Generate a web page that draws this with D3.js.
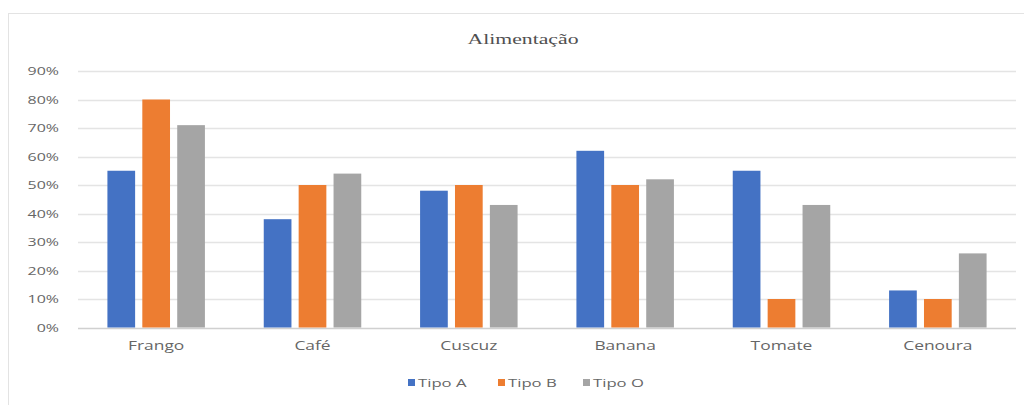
<!DOCTYPE html>
<html>
<head>
<meta charset="utf-8">
<script src="https://cdn.jsdelivr.net/npm/d3@7"></script>
<style>
  body { margin: 0; background: #fff; }
  .tick text { fill: #666666; }
</style>
</head>
<body>
<div id="chart"></div>
<script>
// Data
const categories = ["Frango", "Café", "Cuscuz", "Banana", "Tomate", "Cenoura"];
const seriesNames = ["Tipo A", "Tipo B", "Tipo O"];
const tipoA = [55, 38, 48, 62, 55, 13];
const tipoB = [80, 50, 50, 50, 10, 10];
const tipoO = [71, 54, 43, 52, 43, 26];
const yTicks = [0, 10, 20, 30, 40, 50, 60, 70, 80, 90];
const colors = ["#4472c4", "#ed7d31", "#a5a5a5"];

const series = [tipoA, tipoB, tipoO];
const width = 1024, height = 405;
const margins = { top: 71, right: 8, bottom: 78, left: 78 };
const innerW = 1016 - margins.left;
const innerH = 327.5 - margins.top;
// the source picture is stretched sideways, so text is too
const stretch = 1.45;

const svg = d3.select("#chart").append("svg")
    .attr("width", width)
    .attr("height", height);

// outer chart frame (right edge runs off the picture)
svg.append("rect")
    .attr("x", 8.5).attr("y", 13.5)
    .attr("width", 1030).attr("height", 400)
    .attr("fill", "none")
    .attr("stroke", "#e3e3e3");

const g = svg.append("g")
    .attr("transform", `translate(${margins.left},${margins.top})`);

const x0 = d3.scaleBand().domain(categories).range([0, innerW]).paddingInner(0).paddingOuter(0);
const y = d3.scaleLinear().domain([0, 90]).range([innerH, 0]);

// gridlines
g.append("g")
    .selectAll("line")
    .data(yTicks)
    .join("line")
    .attr("x1", 0).attr("x2", innerW)
    .attr("y1", d => Math.round(y(d)) + 0.5)
    .attr("y2", d => Math.round(y(d)) + 0.5)
    .attr("stroke", d => d === 0 ? "#d0d0d0" : "#e4e4e4")
    .attr("stroke-width", 1.5);

// y axis labels
const yAxis = d3.axisLeft(y).tickValues(yTicks).tickSize(0).tickFormat(d => d + "%");
g.append("g")
    .call(yAxis)
    .call(s => s.select(".domain").remove())
    .selectAll("text")
    .attr("x", -19 / stretch)
    .attr("transform", `scale(${stretch},1)`)
    .style("font-family", "'Open Sans', sans-serif")
    .style("font-size", "11px");

// bars: 3 bars of ~27.7px with ~7px gap, centered in band
const barW = 27.7, gap = 7.2;
const groupW = barW * 3 + gap * 2;
series.forEach((vals, si) => {
    g.append("g")
        .selectAll("rect")
        .data(vals.map((v, i) => ({ cat: categories[i], v })))
        .join("rect")
        .attr("x", d => x0(d.cat) + (x0.bandwidth() - groupW) / 2 + si * (barW + gap))
        .attr("y", d => y(d.v))
        .attr("width", barW)
        .attr("height", d => innerH - y(d.v))
        .attr("fill", colors[si]);
});

// x axis labels
const xAxis = d3.axisBottom(x0).tickSize(0).tickPadding(14);
g.append("g")
    .attr("transform", `translate(0,${innerH})`)
    .call(xAxis)
    .call(s => s.select(".domain").remove())
    .selectAll("text")
    .attr("transform", `scale(${stretch},1)`)
    .style("font-family", "'Open Sans', sans-serif")
    .style("font-size", "12px");

// title
svg.append("text")
    .attr("transform", `translate(523,44) scale(${stretch},1)`)
    .attr("text-anchor", "middle")
    .attr("fill", "#505050")
    .style("font-family", "'Liberation Serif', serif")
    .style("font-size", "15px")
    .text("Alimentação");

// legend
const legendX = [408, 498, 583];
const legend = svg.append("g");
seriesNames.forEach((name, i) => {
    legend.append("rect")
        .attr("x", legendX[i]).attr("y", 379)
        .attr("width", 7).attr("height", 7)
        .attr("fill", colors[i]);
    legend.append("text")
        .attr("transform", `translate(${legendX[i] + 10},387) scale(${stretch},1)`)
        .attr("fill", "#666666")
        .style("font-family", "'Open Sans', sans-serif")
        .style("font-size", "11.5px")
        .text(name);
});
</script>
</body>
</html>
